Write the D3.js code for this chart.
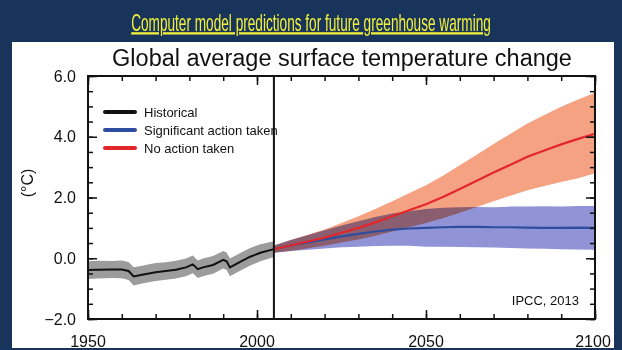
<!DOCTYPE html>
<html>
<head>
<meta charset="utf-8">
<script src="https://cdn.jsdelivr.net/npm/d3@7"></script>
<style>
body { margin: 0; background: #1a365a; }
svg { display: block; }
</style>
</head>
<body>
<svg id="chart" width="622" height="350"></svg>
<script>
// ---- data ----
var histYears = [1950, 1953, 1957, 1960, 1962, 1963.5, 1966, 1970, 1973, 1976, 1979, 1981, 1982.5, 1984, 1987, 1990, 1991, 1992, 1995, 1998, 2001, 2005];
var histMid   = [-0.39, -0.38, -0.37, -0.37, -0.42, -0.60, -0.54, -0.46, -0.42, -0.38, -0.30, -0.20, -0.36, -0.30, -0.22, -0.05, -0.10, -0.30, -0.12, 0.05, 0.18, 0.30];
var histHi    = [-0.10, -0.08, -0.09, -0.07, -0.12, -0.30, -0.25, -0.16, -0.13, -0.08, -0.01, 0.09, -0.07, -0.01, 0.07, 0.24, 0.19, -0.01, 0.17, 0.34, 0.46, 0.56];
var histLo    = [-0.68, -0.67, -0.65, -0.66, -0.72, -0.90, -0.83, -0.75, -0.71, -0.67, -0.59, -0.49, -0.65, -0.59, -0.51, -0.34, -0.39, -0.59, -0.41, -0.24, -0.10, 0.04];

var projYears = [2005, 2010, 2015, 2020, 2025, 2030, 2035, 2040, 2045, 2050, 2055, 2060, 2065, 2070, 2075, 2080, 2085, 2090, 2095, 2100];
var redMid  = [0.30, 0.42, 0.55, 0.68, 0.84, 1.00, 1.18, 1.38, 1.58, 1.78, 2.02, 2.28, 2.55, 2.82, 3.08, 3.34, 3.55, 3.75, 3.93, 4.10];
var redHi   = [0.42, 0.60, 0.77, 0.95, 1.16, 1.38, 1.62, 1.88, 2.14, 2.40, 2.72, 3.06, 3.41, 3.76, 4.10, 4.44, 4.72, 4.99, 5.23, 5.45];
var redLo   = [0.18, 0.24, 0.33, 0.41, 0.52, 0.62, 0.74, 0.88, 1.02, 1.16, 1.32, 1.50, 1.69, 1.88, 2.06, 2.24, 2.38, 2.51, 2.63, 2.80];
var blueMid = [0.30, 0.42, 0.52, 0.62, 0.72, 0.80, 0.88, 0.94, 0.98, 1.00, 1.02, 1.03, 1.03, 1.02, 1.02, 1.01, 1.00, 1.00, 1.01, 1.00];
var blueHi  = [0.42, 0.60, 0.76, 0.92, 1.08, 1.22, 1.36, 1.47, 1.55, 1.62, 1.66, 1.68, 1.69, 1.68, 1.70, 1.70, 1.71, 1.70, 1.72, 1.72];
var blueLo  = [0.18, 0.24, 0.28, 0.32, 0.36, 0.38, 0.40, 0.41, 0.41, 0.38, 0.38, 0.37, 0.36, 0.35, 0.34, 0.32, 0.31, 0.30, 0.29, 0.28];

var yTicks = [-2, 0, 2, 4, 6];
var xTicks = [1950, 2000, 2050, 2100];
var legendNames = ["Historical", "Significant action taken", "No action taken"];
var legendColors = ["#111111", "#2f4d9e", "#e3262b"];

function drawChart(){
	var svg = d3.select("#chart");
	var font = "'Liberation Sans', Arial, sans-serif";
	var plotLeft = 88, plotRight = 595, plotTop = 76, plotBottom = 319;

	var x = d3.scaleLinear().domain([1950, 2100]).range([plotLeft, plotRight]);
	var y = d3.scaleLinear().domain([-2, 6]).range([plotBottom, plotTop]);

	svg.append("rect").attr("width", 622).attr("height", 350).attr("fill", "#18345a");
	svg.append("rect").attr("x", 12).attr("y", 42).attr("width", 602).attr("height", 306).attr("fill", "#ffffff");

	// banner title, squeezed to the narrow look of the original
	var banner = svg.append("g");
	var bannerText = banner.append("text")
		.attr("x", 0).attr("y", 0)
		.attr("text-anchor", "middle")
		.attr("font-family", "'Liberation Sans Narrow', 'Liberation Sans', Arial, sans-serif")
		.attr("font-size", 23)
		.attr("fill", "#f2f03a")
		.attr("text-decoration", "underline")
		.text("Computer model predictions for future greenhouse warming");
	var naturalWidth = bannerText.node().getComputedTextLength();
	banner.attr("transform", "translate(311,31) scale(" + (360 / naturalWidth) + ",1)");

	svg.append("text")
		.attr("x", 342).attr("y", 66)
		.attr("text-anchor", "middle")
		.attr("font-family", font)
		.attr("font-size", 23.5)
		.attr("fill", "#111")
		.text("Global average surface temperature change");

	function zip(xs, ys){
		var pts = [];
		for (var i = 0; i < xs.length; i++) pts.push([xs[i], ys[i]]);
		return pts;
	}
	function band(xs, lo, hi){
		var pts = [];
		for (var i = 0; i < xs.length; i++) pts.push([xs[i], lo[i], hi[i]]);
		return pts;
	}

	var area = d3.area()
		.x(function(d){ return x(d[0]); })
		.y0(function(d){ return y(d[1]); })
		.y1(function(d){ return y(d[2]); });
	var line = d3.line()
		.x(function(d){ return x(d[0]); })
		.y(function(d){ return y(d[1]); });

	var plot = svg.append("g");

	plot.append("path").attr("d", area(band(histYears, histLo, histHi))).attr("fill", "#9c9c9c");
	plot.append("path").attr("d", area(band(projYears, blueLo, blueHi)))
		.attr("fill", "#9094d6").style("mix-blend-mode", "multiply");
	plot.append("path").attr("d", area(band(projYears, redLo, redHi)))
		.attr("fill", "#f5a283").style("mix-blend-mode", "multiply");

	plot.append("path").attr("d", line(zip(histYears, histMid)))
		.attr("fill", "none").attr("stroke", legendColors[0]).attr("stroke-width", 2);
	plot.append("path").attr("d", line(zip(projYears, blueMid)))
		.attr("fill", "none").attr("stroke", legendColors[1]).attr("stroke-width", 2.2);
	plot.append("path").attr("d", line(zip(projYears, redMid)))
		.attr("fill", "none").attr("stroke", legendColors[2]).attr("stroke-width", 2.2);

	// 2005 divider
	svg.append("line")
		.attr("x1", x(2005)).attr("x2", x(2005))
		.attr("y1", plotTop).attr("y2", plotBottom)
		.attr("stroke", "#111").attr("stroke-width", 2);

	// axes: inward ticks on all four sides
	function styleAxis(g){
		g.select(".domain").remove();
		g.selectAll("line").attr("stroke", "#111").attr("stroke-width", 1.5);
		g.selectAll("text").remove();
	}
	var minorX = d3.range(1950, 2101, 10);
	var minorY = d3.range(-2, 6.01, 0.5);

	svg.append("g").attr("transform", "translate(0," + plotBottom + ")")
		.call(d3.axisBottom(x).tickValues(minorX).tickSize(-5)).call(styleAxis);
	svg.append("g").attr("transform", "translate(0," + plotBottom + ")")
		.call(d3.axisBottom(x).tickValues(xTicks).tickSize(-9)).call(styleAxis);
	svg.append("g").attr("transform", "translate(0," + plotTop + ")")
		.call(d3.axisTop(x).tickValues(minorX).tickSize(-5)).call(styleAxis);
	svg.append("g").attr("transform", "translate(0," + plotTop + ")")
		.call(d3.axisTop(x).tickValues(xTicks).tickSize(-9)).call(styleAxis);
	svg.append("g").attr("transform", "translate(" + plotLeft + ",0)")
		.call(d3.axisLeft(y).tickValues(minorY).tickSize(-5)).call(styleAxis);
	svg.append("g").attr("transform", "translate(" + plotLeft + ",0)")
		.call(d3.axisLeft(y).tickValues(yTicks).tickSize(-9)).call(styleAxis);
	svg.append("g").attr("transform", "translate(" + plotRight + ",0)")
		.call(d3.axisRight(y).tickValues(minorY).tickSize(-5)).call(styleAxis);
	svg.append("g").attr("transform", "translate(" + plotRight + ",0)")
		.call(d3.axisRight(y).tickValues(yTicks).tickSize(-9)).call(styleAxis);

	svg.append("rect")
		.attr("x", plotLeft).attr("y", plotTop)
		.attr("width", plotRight - plotLeft).attr("height", plotBottom - plotTop)
		.attr("fill", "none").attr("stroke", "#111").attr("stroke-width", 2);

	// tick labels
	svg.selectAll(".ylab").data(yTicks).enter().append("text")
		.attr("x", 76).attr("y", function(d){ return y(d); })
		.attr("dy", "0.35em")
		.attr("text-anchor", "end")
		.attr("font-family", font).attr("font-size", 16).attr("fill", "#111")
		.text(function(d){ return d3.format(".1f")(d).replace("-", "\u2212"); });

	svg.selectAll(".xlab").data(xTicks).enter().append("text")
		.attr("x", function(d){ return x(d) - (d === 2100 ? 2 : 0); })
		.attr("y", 347)
		.attr("text-anchor", "middle")
		.attr("font-family", font).attr("font-size", 16).attr("fill", "#111")
		.text(function(d){ return d; });

	svg.append("text")
		.attr("transform", "translate(33,183) rotate(-90)")
		.attr("text-anchor", "middle")
		.attr("font-family", font).attr("font-size", 16).attr("fill", "#111")
		.text("(\u00B0C)");

	// legend
	var leg = svg.selectAll(".leg").data(legendNames).enter().append("g")
		.attr("transform", function(d, i){ return "translate(105," + (112 + i * 18) + ")"; });
	leg.append("line")
		.attr("x1", 0).attr("x2", 30)
		.attr("stroke", function(d, i){ return legendColors[i]; })
		.attr("stroke-width", 4).attr("stroke-linecap", "round");
	leg.append("text")
		.attr("x", 39).attr("dy", "0.35em")
		.attr("font-family", font).attr("font-size", 13).attr("fill", "#111")
		.text(function(d){ return d; });

	svg.append("text")
		.attr("x", 579).attr("y", 305)
		.attr("text-anchor", "end")
		.attr("font-family", font).attr("font-size", 13).attr("fill", "#111")
		.text("IPCC, 2013");
}

drawChart();
</script>
</body>
</html>
